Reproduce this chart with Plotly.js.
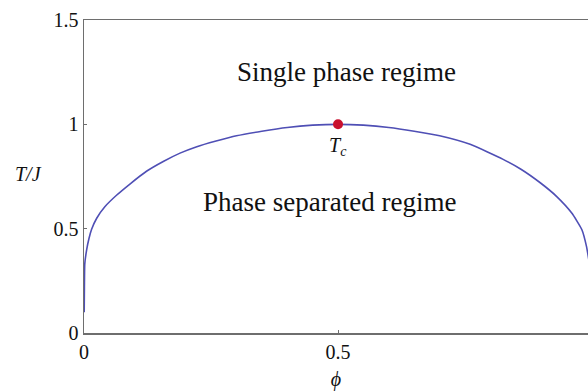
<!DOCTYPE html>
<html>
<head>
<meta charset="utf-8">
<script src="https://cdn.plot.ly/plotly-3.0.1.min.js"></script>
<style>html,body{margin:0;padding:0;background:#fff;}#chart{width:588px;height:391px;}</style>
</head>
<body>
<div id="chart"></div>
<script>
// Coexistence (binodal) curve
const phi = [0.0004, 0.0008, 0.0015, 0.0053, 0.0098, 0.015, 0.025, 0.041, 0.064, 0.091, 0.123, 0.156, 0.189, 0.222,
             0.26, 0.30, 0.35, 0.40, 0.45, 0.50, 0.55, 0.60, 0.65, 0.70, 0.76, 0.825, 0.86, 0.898, 0.930,
             0.960, 0.980, 0.989, 0.995];
const TJ  = [0.10, 0.22, 0.33, 0.40, 0.453, 0.497, 0.55, 0.605, 0.66, 0.715, 0.775, 0.822, 0.862, 0.893,
             0.92, 0.945, 0.967, 0.985, 0.996, 1.00, 0.996, 0.985, 0.967, 0.945, 0.904, 0.832, 0.785, 0.72, 0.655,
             0.575, 0.495, 0.415, 0.33];
// Critical point
const critPhi = [0.5];
const critT = [1.0];
const xTicks = [0, 0.5, 1];
const xTickText = ["0", "0.5", "1"];
const yTicks = [0, 0.5, 1, 1.5];
const yTickText = ["0", "0.5", "1", "1.5"];

const serif = "Liberation Serif, Times New Roman, serif";
const axisColor = "#6e6e6e";

const traces = [
  {x: phi, y: TJ, type: "scatter", mode: "lines", line: {color: "#4f4fb5", width: 1.6, shape: "spline", smoothing: 0.5},
   hoverinfo: "skip", showlegend: false},
  {x: critPhi, y: critT, type: "scatter", mode: "markers", marker: {color: "#c8102e", size: 10}, showlegend: false}
];

const layout = {
  width: 588, height: 391,
  margin: {l: 84, r: 0, t: 20, b: 58},
  paper_bgcolor: "#fff", plot_bgcolor: "#fff",
  showlegend: false,
  font: {family: serif, color: "#111", size: 20},
  xaxis: {
    range: [0, 0.992], showgrid: false, zeroline: false,
    showline: true, linecolor: axisColor, linewidth: 1.5, mirror: true,
    ticks: "inside", ticklen: 3, tickcolor: axisColor, tickwidth: 1,
    tickvals: xTicks, ticktext: xTickText,
    tickfont: {family: serif, size: 20, color: "#111"},
    title: {text: "<i>ϕ</i>", font: {family: serif, size: 20, color: "#111"}, standoff: 14}
  },
  yaxis: {
    range: [0, 1.5], showgrid: false, zeroline: false,
    showline: true, linecolor: axisColor, linewidth: 1.5,
    ticks: "inside", ticklen: 3, tickcolor: axisColor, tickwidth: 1,
    tickvals: yTicks, ticktext: yTickText,
    tickfont: {family: serif, size: 20, color: "#111"}
  },
  annotations: [
    {text: "<i>T/J</i>", xref: "paper", yref: "y", x: -0.11, y: 0.76, xanchor: "center", yanchor: "middle",
     showarrow: false, font: {family: serif, size: 20, color: "#111"}},
    {text: "Single phase regime", xref: "x", yref: "y", x: 0.516, y: 1.25, xanchor: "center", yanchor: "middle",
     showarrow: false, font: {family: serif, size: 27, color: "#111"}},
    {text: "Phase separated regime", xref: "x", yref: "y", x: 0.483, y: 0.627, xanchor: "center", yanchor: "middle",
     showarrow: false, font: {family: serif, size: 27, color: "#111"}},
    {text: "<i>T<sub>c</sub></i>", xref: "x", yref: "y", x: 0.5, y: 0.895, xanchor: "center", yanchor: "middle",
     showarrow: false, font: {family: serif, size: 20, color: "#111"}}
  ]
};

Plotly.newPlot("chart", traces, layout, {staticPlot: true, displayModeBar: false});
</script>
</body>
</html>
